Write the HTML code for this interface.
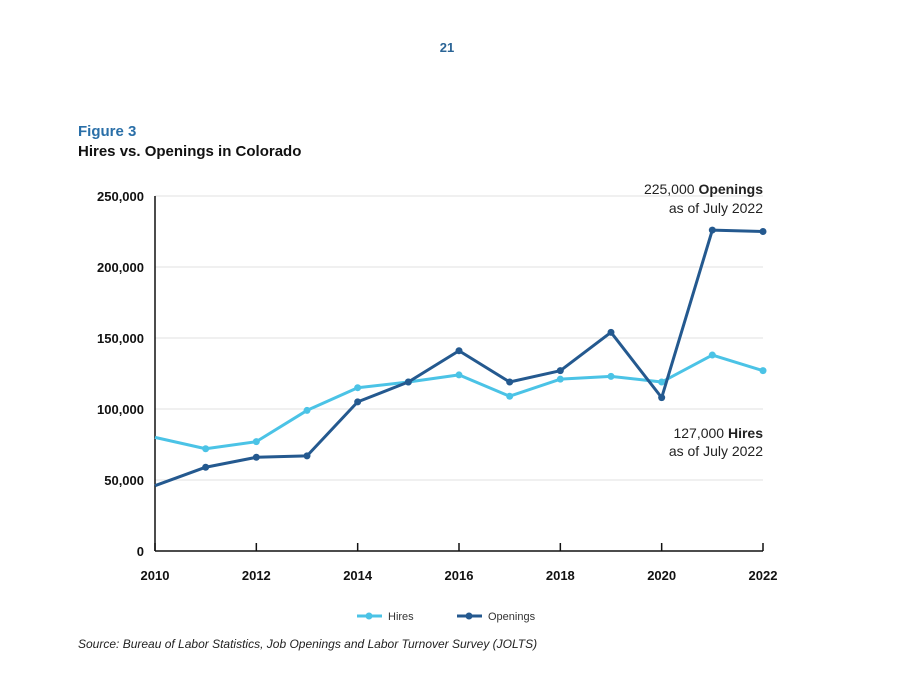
<!DOCTYPE html>
<html><head><meta charset="utf-8"><style>
body{margin:0;background:#fff;font-family:"Liberation Sans",sans-serif;}
svg text{font-family:"Liberation Sans",sans-serif;}
</style></head><body>
<svg id="chart" width="902" height="674" viewBox="0 0 902 674" xmlns="http://www.w3.org/2000/svg">
<rect x="0" y="0" width="902" height="674" fill="#fff"/>
<text x="447" y="52" text-anchor="middle" font-size="13" font-weight="bold" fill="#2a6496">21</text>
<text x="78" y="136" font-size="15" font-weight="bold" fill="#2a6fa8">Figure 3</text>
<text x="78" y="156" font-size="15" font-weight="bold" fill="#111">Hires vs. Openings in Colorado</text>
<g id="grid"></g>
<g id="axes"></g>
<g id="series"></g>
<text x="763" y="194" text-anchor="end" font-size="14" fill="#222">225,000 <tspan font-weight="bold">Openings</tspan></text>
<text x="763" y="213" text-anchor="end" font-size="14" fill="#222">as of July 2022</text>
<text x="763" y="438" text-anchor="end" font-size="14" fill="#222">127,000 <tspan font-weight="bold">Hires</tspan></text>
<text x="763" y="456" text-anchor="end" font-size="14" fill="#222">as of July 2022</text>
<g>
<g>
<line x1="357" y1="616" x2="382" y2="616" stroke="#4bc3e6" stroke-width="3"/><circle cx="369" cy="616" r="3.5" fill="#4bc3e6"/>
<text x="388" y="620" font-size="11" fill="#333">Hires</text></g>
<g>
<line x1="457" y1="616" x2="482" y2="616" stroke="#24598f" stroke-width="3"/><circle cx="469" cy="616" r="3.5" fill="#24598f"/>
<text x="488" y="620" font-size="11" fill="#333">Openings</text></g>
</g>
<text x="78" y="648" font-size="12" font-style="italic" fill="#222">Source: Bureau of Labor Statistics, Job Openings and Labor Turnover Survey (JOLTS)</text>
</svg>
<script>
const years=[2010,2011,2012,2013,2014,2015,2016,2017,2018,2019,2020,2021,2022];
const hires=[80000,72000,77000,99000,115000,119000,124000,109000,121000,123000,119000,138000,127000];
const openings=[46000,59000,66000,67000,105000,119000,141000,119000,127000,154000,108000,226000,225000];
const yTicks=[0,50000,100000,150000,200000,250000];
const yTickLabels=["0","50,000","100,000","150,000","200,000","250,000"];
const xTicks=[2010,2012,2014,2016,2018,2020,2022];

const NS="http://www.w3.org/2000/svg";
const X0=155,X1=763,Y0=551,Y1=196;
const xs=y=>X0+(y-2010)/(2022-2010)*(X1-X0);
const ys=v=>Y0-v/250000*(Y0-Y1);
function mk(tag,attrs,parent){const e=document.createElementNS(NS,tag);for(const k in attrs)e.setAttribute(k,attrs[k]);parent.appendChild(e);return e;}
const grid=document.getElementById('grid'),axes=document.getElementById('axes'),ser=document.getElementById('series');
yTicks.forEach((t,i)=>{
  if(t>0){const l=mk('line',{x1:X0,x2:X1,y1:ys(t),y2:ys(t),stroke:'#e2e2e2','stroke-width':1},grid);
  
  }
  const tx=mk('text',{x:144,y:ys(t)+5,'text-anchor':'end','font-size':13,'font-weight':'bold',fill:'#111'},axes);
  tx.textContent=yTickLabels[i];
  
  
});
const ya=mk('line',{x1:X0,x2:X0,y1:Y1,y2:Y0,stroke:'#111','stroke-width':1.5},axes);


const xa=mk('line',{x1:X0,x2:X1,y1:Y0,y2:Y0,stroke:'#111','stroke-width':1.5},axes);


xTicks.forEach(t=>{
  const tk=mk('line',{x1:xs(t),x2:xs(t),y1:Y0-8,y2:Y0,stroke:'#111','stroke-width':1.5},axes);
  
  
  const tx=mk('text',{x:xs(t),y:580,'text-anchor':'middle','font-size':13,'font-weight':'bold',fill:'#111'},axes);
  tx.textContent=t;
  
  
});
function series(vals,color,name){
  const p=mk('polyline',{points:vals.map((v,i)=>xs(years[i])+','+ys(v)).join(' '),fill:'none',stroke:color,'stroke-width':3,'stroke-linejoin':'round'},ser);
  
  
  vals.forEach((v,i)=>{if(i===0)return;
    const c=mk('circle',{cx:xs(years[i]),cy:ys(v),r:3.5,fill:color},ser);
    
    
  });
}
series(hires,'#4bc3e6','hires');
series(openings,'#24598f','openings');
</script>
</body></html>
